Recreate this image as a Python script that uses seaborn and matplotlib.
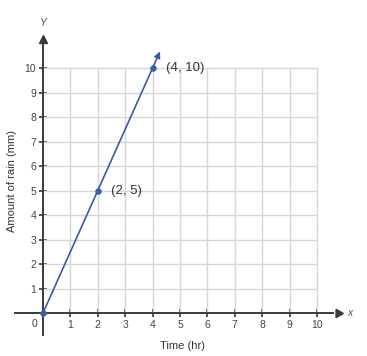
import matplotlib
matplotlib.use("Agg")
import matplotlib.pyplot as plt
import seaborn as sns
import pandas as pd

sns.set_theme(style="white")
plt.rcParams['font.family'] = ['Liberation Sans', 'DejaVu Sans']

# Data
time_hr = [0, 2, 4]
rain_mm = [0, 5, 10]
line_end_x = 4.27
slope = 2.5
x_ticks = [1, 2, 3, 4, 5, 6, 7, 8, 9, 10]
y_ticks = [1, 2, 3, 4, 5, 6, 7, 8, 9, 10]
point_labels = ["(0, 0)", "(2, 5)", "(4, 10)"]

df = pd.DataFrame({"Time (hr)": time_hr, "Amount of rain (mm)": rain_mm})

fig = plt.figure(figsize=(3.67, 3.56), dpi=100)
ax = fig.add_axes([0, 0, 1, 1])
ax.set_xlim(-1.569, 11.825)
ax.set_ylim(-1.755, 12.776)

grid_c = "#d6d6d6"
axis_c = "#3a3a3a"
blue = "#3b5ba5"

# grid limited to 0..10
ax.vlines(x_ticks, 0, 10, color=grid_c, lw=1, zorder=1)
ax.hlines(y_ticks, 0, 10, color=grid_c, lw=1, zorder=1)

# spines at zero
for s in ["top", "right"]:
    ax.spines[s].set_visible(False)
ax.spines["left"].set_position(("data", 0))
ax.spines["bottom"].set_position(("data", 0))
ax.spines["left"].set_bounds(-0.9, 11.1)
ax.spines["bottom"].set_bounds(-1.02, 10.6)
for s in ["left", "bottom"]:
    ax.spines[s].set_color(axis_c)
    ax.spines[s].set_linewidth(1.4)
    ax.spines[s].set_zorder(3)

# arrowheads on axes
ax.plot([10.75], [0], marker=(3, 0, -90), color=axis_c, ms=7, clip_on=False, zorder=4)
ax.plot([0], [11.2], marker="^", color=axis_c, ms=6, clip_on=False, zorder=4)
ax.text(11.1, 0, "x", fontsize=7.5, color="#555555", style="italic", ha="left", va="center")
ax.text(0, 11.85, "Y", fontsize=7.5, color="#555555", style="italic", ha="center", va="center")

ax.set_xticks(x_ticks)
ax.set_yticks(y_ticks)
ax.set_xticklabels([str(t) for t in x_ticks])
ax.set_yticklabels([str(t) for t in y_ticks])
ax.tick_params(axis="both", direction="inout", length=6, width=1.2, color=axis_c,
               labelsize=7.5, labelcolor="#444444", bottom=True, left=True)
ax.tick_params(axis="x", pad=2)
ax.tick_params(axis="y", pad=2)
ax.text(-0.2, -0.45, "0", fontsize=7.5, color="#444444", ha="right", va="center")

# line with arrow
ax.annotate("", xy=(line_end_x, slope * line_end_x), xytext=(0, 0),
            arrowprops=dict(arrowstyle="-|>", color=blue, lw=1.2,
                            mutation_scale=9, shrinkA=0, shrinkB=0), zorder=5)
sns.scatterplot(data=df, x="Time (hr)", y="Amount of rain (mm)", ax=ax,
                color=blue, s=18, edgecolor=blue, zorder=6, clip_on=False, legend=False)
ax.set_xlabel("")
ax.set_ylabel("")

for xv, yv, lab in zip(time_hr[1:], rain_mm[1:], point_labels[1:]):
    ax.text(xv + 0.5, yv, lab, fontsize=9.5, color="#333333", ha="left", va="center")

fig.text(183 / 367, 1 - 346 / 356, "Time (hr)", fontsize=8, color="#333333", ha="center", va="center")
fig.text(12 / 367, 1 - 181 / 356, "Amount of rain (mm)", fontsize=8, color="#333333",
         ha="center", va="center", rotation=90)

fig.savefig("out.png", dpi=100)
